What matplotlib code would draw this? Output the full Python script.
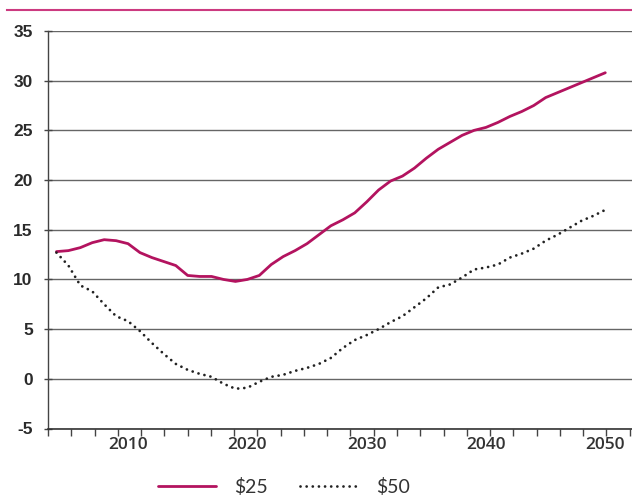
import numpy as np
import matplotlib.pyplot as plt
from matplotlib.lines import Line2D

# ------------------------------
# Data
# ------------------------------
years = list(range(2004, 2051))

price_25 = [12.8, 12.9, 13.2, 13.7, 14.0, 13.9, 13.6, 12.7, 12.2, 11.8,
            11.4, 10.4, 10.3, 10.3, 10.0, 9.8, 10.0, 10.4, 11.5, 12.3,
            12.9, 13.6, 14.5, 15.4, 16.0, 16.7, 17.8, 19.0, 19.9, 20.4,
            21.2, 22.2, 23.1, 23.8, 24.5, 25.0, 25.3, 25.8, 26.4, 26.9,
            27.5, 28.3, 28.8, 29.3, 29.8, 30.3, 30.8]

price_50 = [12.7, 11.4, 9.4, 8.8, 7.5, 6.3, 5.8, 4.8, 3.6, 2.5,
            1.5, 0.9, 0.5, 0.2, -0.5, -1.0, -0.9, -0.3, 0.2, 0.4,
            0.8, 1.1, 1.5, 2.1, 3.1, 3.9, 4.4, 5.0, 5.7, 6.3,
            7.2, 8.1, 9.2, 9.5, 10.2, 11.0, 11.2, 11.5, 12.2, 12.6,
            13.1, 13.9, 14.5, 15.2, 15.9, 16.4, 17.0]

y_ticks = [-5, 0, 5, 10, 15, 20, 25, 30, 35]
x_labels = [2010, 2020, 2030, 2040, 2050]
series_names = ['$25', '$50']

MAGENTA = '#b3135f'
PINK_RULE = '#cc3a80'

fig = plt.figure(figsize=(6.32, 4.95), dpi=100)
ax = fig.add_axes([48 / 632, 1 - 428.5 / 495, 1 - 48 / 632 + 0.01, (428.5 - 31) / 495])

ax.plot(years, price_25, color=MAGENTA, lw=2.0, solid_capstyle='round',
        label=series_names[0], zorder=3)
ax.plot(years, price_50, color='#222222', lw=2.0, linestyle=(0, (0.01, 2.2)),
        dash_capstyle='round', label=series_names[1], zorder=3)

# x scale: 2010 at ~128px, 2050 at ~605px
px_per_year = (605 - 128) / 40
x0 = 2010 - (128 - 48) / px_per_year
x1 = 2010 + (638 - 128) / px_per_year
ax.set_xlim(x0, x1)
ax.set_ylim(-5, 35)

ax.set_yticks(y_ticks)
ax.set_yticklabels([str(v) for v in y_ticks], family=['Liberation Sans', 'DejaVu Sans'],
                   fontsize=12.5, fontweight='bold', color='#2a2a2a')
ax.yaxis.grid(True, color='#666666', lw=1.0)
ax.set_axisbelow(True)

ax.set_xticks(x_labels)
ax.set_xticklabels([str(v) for v in x_labels], family=['Open Sans', 'DejaVu Sans'],
                   fontsize=12.5, fontweight='semibold', color='#333333')
ax.set_xticks(np.arange(x0, x1, 1.95), minor=True)
ax.tick_params(axis='x', which='major', length=0, pad=6)
ax.tick_params(axis='x', which='minor', length=5, width=1, color='#444444', direction='out')
ax.tick_params(axis='y', length=6, width=1, color='#444444', direction='inout', pad=8)

for side in ['top', 'right']:
    ax.spines[side].set_visible(False)
ax.spines['left'].set_color('#444444')
ax.spines['bottom'].set_color('#333333')
ax.spines['left'].set_linewidth(1.0)
ax.spines['bottom'].set_linewidth(1.2)

# pink rule at the top
fig.add_artist(Line2D([7 / 632, 1.0], [1 - 10 / 495, 1 - 10 / 495],
                      color=PINK_RULE, lw=1.5, transform=fig.transFigure))

leg = fig.legend(loc='center', bbox_to_anchor=(284 / 632, 1 - 487 / 495), ncol=2,
                 frameon=False, handlelength=3.0, columnspacing=1.7, handletextpad=0.9,
                 borderpad=0, prop={'family': ['Lato', 'DejaVu Sans'], 'size': 14})
for txt in leg.get_texts():
    txt.set_color('#333333')

fig.savefig('out.png', dpi=100)
